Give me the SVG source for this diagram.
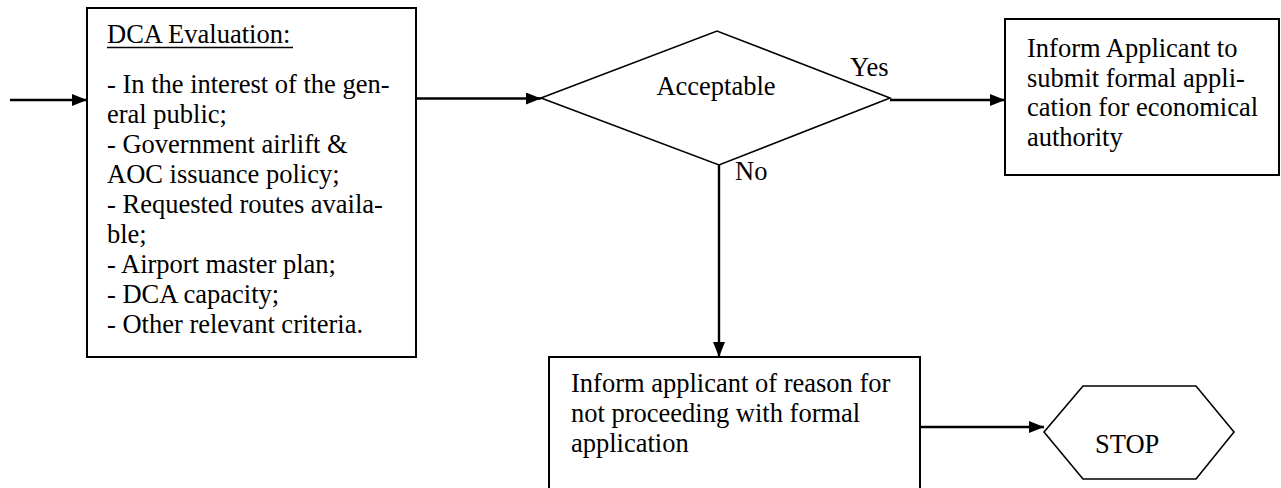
<svg xmlns="http://www.w3.org/2000/svg" width="1281" height="488" viewBox="0 0 1281 488">
  <defs>
    <marker id="arrow" viewBox="0 0 15 12" refX="15" refY="6" markerWidth="15" markerHeight="12" markerUnits="userSpaceOnUse" orient="auto">
      <path d="M0,0 L15,6 L0,12 Z" fill="#000"/>
    </marker>
    <style>
      .box { fill: #fff; stroke: #000; stroke-width: 2; }
      .shape { fill: #fff; stroke: #000; stroke-width: 1.6; }
      .t { font-family: "Liberation Serif", "Times New Roman", serif; font-size: 26.5px; fill: #000; }
      .conn { stroke: #000; stroke-width: 2.4; fill: none; }
    </style>
  </defs>
  <rect width="1281" height="488" fill="#fff"/>

  <g id="connectors">
    <line class="conn" x1="10" y1="100" x2="87" y2="100" marker-end="url(#arrow)"/>
    <line class="conn" x1="416" y1="98.5" x2="541" y2="98.5" marker-end="url(#arrow)"/>
    <line class="conn" x1="890" y1="100" x2="1005" y2="100" marker-end="url(#arrow)"/>
    <line class="conn" x1="719" y1="165" x2="719" y2="357" marker-end="url(#arrow)"/>
    <line class="conn" x1="920" y1="427" x2="1044" y2="427" marker-end="url(#arrow)"/>
  </g>

  <g id="evaluation">
    <rect class="box" x="87" y="8" width="329" height="349"/>
    <text class="t" x="107" y="43">DCA Evaluation:</text>
    <line x1="107" y1="47.5" x2="293" y2="47.5" stroke="#000" stroke-width="1.4"/>
    <text class="t">
      <tspan x="107" y="93">- In the interest of the gen-</tspan>
      <tspan x="107" y="123">eral public;</tspan>
      <tspan x="107" y="153">- Government airlift &amp;</tspan>
      <tspan x="107" y="183">AOC issuance policy;</tspan>
      <tspan x="107" y="213">- Requested routes availa-</tspan>
      <tspan x="107" y="243">ble;</tspan>
      <tspan x="107" y="273">- Airport master plan;</tspan>
      <tspan x="107" y="303">- DCA capacity;</tspan>
      <tspan x="107" y="333">- Other relevant criteria.</tspan>
    </text>
  </g>

  <g id="acceptable">
    <polygon class="shape" points="541,98 717,31 890,98 719,165"/>
    <text class="t" x="716" y="95" text-anchor="middle">Acceptable</text>
    <text class="t" x="850" y="76">Yes</text>
    <text class="t" x="735" y="180">No</text>
  </g>

  <g id="inform-submit">
    <rect class="box" x="1005" y="19" width="274" height="156"/>
    <text class="t">
      <tspan x="1027" y="57">Inform Applicant to</tspan>
      <tspan x="1027" y="87">submit formal appli-</tspan>
      <tspan x="1027" y="116">cation for economical</tspan>
      <tspan x="1027" y="146">authority</tspan>
    </text>
  </g>

  <g id="inform-reason">
    <rect class="box" x="549" y="357" width="371" height="145"/>
    <text class="t">
      <tspan x="571" y="392">Inform applicant of reason for</tspan>
      <tspan x="571" y="422">not proceeding with formal</tspan>
      <tspan x="571" y="452">application</tspan>
    </text>
  </g>

  <g id="stop">
    <polygon class="shape" points="1044,432 1083,386 1196,386 1234,432 1196,479 1083,479"/>
    <text class="t" x="1095" y="453">STOP</text>
  </g>
</svg>
